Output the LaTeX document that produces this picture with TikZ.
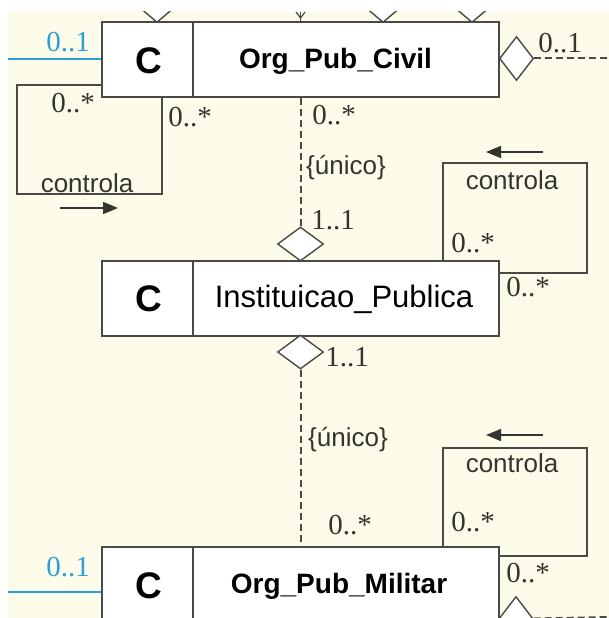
\documentclass[tikz,border=0pt]{standalone}
\usepackage{fontspec}
\setmainfont{Liberation Serif}
\newfontfamily\sansf{Liberation Sans}
\usetikzlibrary{shapes.geometric,arrows.meta}
\definecolor{cream}{HTML}{FDFBEA}
\definecolor{ln}{HTML}{4A4A45}
\definecolor{txt}{HTML}{35352F}
\definecolor{umlblue}{HTML}{2C9FD6}
\begin{document}
\begin{tikzpicture}[x=1pt,y=-1pt,
  classbox/.style={draw=ln, fill=white, line width=1.6pt, minimum width=397pt, minimum height=75pt, inner sep=0pt},
  aggv/.style={diamond, draw=ln, fill=white, line width=1.4pt, inner sep=0pt, minimum width=46pt, minimum height=34pt},
  aggh/.style={diamond, draw=ln, fill=white, line width=1.4pt, inner sep=0pt, minimum width=34pt, minimum height=44pt},
  conn/.style={draw=ln, line width=1.6pt},
  dashconn/.style={draw=ln, line width=2pt, dash pattern=on 7pt off 4pt},
  mult/.style={text=txt, font=\fontsize{29}{29}\selectfont, inner sep=0pt},
  bluemult/.style={text=umlblue, font=\fontsize{29}{29}\selectfont, inner sep=0pt},
  lbl/.style={text=txt, font=\sansf\fontsize{26}{26}\selectfont, inner sep=0pt},
  stereo/.style={text=black, font=\sansf\bfseries\fontsize{37}{37}\selectfont, inner sep=0pt},
  cname/.style={text=black, font=\sansf\bfseries\fontsize{28}{28}\selectfont, inner sep=0pt},
  cnamereg/.style={text=black, font=\sansf\fontsize{31}{31}\selectfont, inner sep=0pt},
  dirarrow/.style={draw=txt, line width=1.5pt, -{Triangle[length=15pt,width=12pt]}}
]
\useasboundingbox (0,0) rectangle (609,618);
\clip (0,0) rectangle (609,618);
\fill[white] (0,0) rectangle (609,618);
\fill[cream] (8,12) rectangle (609,618);

% coordinates
\coordinate (l1) at (17,85);
\coordinate (l2) at (162,194);
\coordinate (r1) at (443,163);
\coordinate (r2) at (587,273);
\coordinate (r3) at (443,448);
\coordinate (r4) at (587,556);
\coordinate (b1) at (8,59);
\coordinate (b2) at (8,592);
\coordinate (e1) at (609,58.5);
\coordinate (e2) at (609,617);

% classes
\node[classbox] (civ) at (300.5,59.5) {};
\node[classbox] (inst) at (300.5,298.5) {};
\node[classbox] (mil) at (300.5,584.5) {};
\draw[conn] (193,22) -- (193,97);
\draw[conn] (193,261) -- (193,336);
\draw[conn] (193,547) -- (193,622);
\node[stereo] (civC) at (149,61) {C};
\node[cname] (civN) at (335.5,61) {Org\_Pub\_Civil};
\node[stereo] (instC) at (149,299) {C};
\node[cnamereg] (instN) at (344,299) {Instituicao\_Publica};
\node[stereo] (milC) at (149,586) {C};
\node[cname] (milN) at (339,586) {Org\_Pub\_Militar};

% self loops
\draw[conn] (civ.west |- l1) -- (l1) |- (l2) -- (l2 |- civ.south);
\draw[conn] (r1 |- inst.north) -- (r1) -| (r2) -- (inst.east |- r2);
\draw[conn] (r3 |- mil.north) -- (r3) -| (r4) -- (mil.east |- r4);

% blue associations
\draw[draw=umlblue, line width=1.6pt] (b1) -- (civ.west |- b1);
\draw[draw=umlblue, line width=1.6pt] (b2) -- (mil.west |- b2);

% aggregations
\node[aggv] (d1) at (300.5,244) {};
\node[aggv] (d2) at (300.5,352) {};
\node[aggh] (d3) at (516.5,58.5) {};
\node[aggh] (d4) at (516,618.5) {};
\draw[dashconn] (civ.south) -- (d1.north);
\draw[dashconn] (d2.south) -- (mil.north);
\draw[dashconn] (d3.east) -- (e1);
\draw[dashconn] (d4.east) -- (e2);

% partial diamonds on top of Org_Pub_Civil
\begin{scope}
\clip (8,12) rectangle (609,22);
\node[aggv, minimum width=40pt] (t1) at (157,5.5) {};
\node[aggv, minimum width=40pt] (t3) at (383,5.5) {};
\node[aggv, minimum width=40pt] (t4) at (472,5.5) {};
\end{scope}
\draw[conn, line width=1.2pt] (296,12) -- (300.5,18) -- (305,12);
\draw[conn, line width=1.2pt] (300.5,12) -- (300.5,22);

% direction arrows
\coordinate (a1s) at (60,208); \coordinate (a1e) at (118,208);
\coordinate (a2s) at (543,152); \coordinate (a2e) at (486,152);
\coordinate (a3s) at (543,435); \coordinate (a3e) at (486,435);
\draw[dirarrow] (a1s) -- (a1e);
\draw[dirarrow] (a2s) -- (a2e);
\draw[dirarrow] (a3s) -- (a3e);

% labels
\node[bluemult] (m1) at (68,42) {0..1};
\node[bluemult] (m2) at (68,567) {0..1};
\node[mult] (m3) at (560,43) {0..1};
\node[mult] (m4) at (73,103) {0..*};
\node[mult] (m5) at (190,117) {0..*};
\node[mult] (m6) at (334,115) {0..*};
\node[lbl] (u1) at (346,168) {\{único\}};
\node[mult] (m7) at (333,220) {1..1};
\node[lbl] (c1) at (87,183) {controla};
\node[lbl] (c2) at (512,180) {controla};
\node[mult] (m8) at (473,243) {0..*};
\node[mult] (m9) at (528,287) {0..*};
\node[mult] (m10) at (347,357) {1..1};
\node[lbl] (u2) at (348,440) {\{único\}};
\node[mult] (m11) at (350,525) {0..*};
\node[lbl] (c3) at (512,463) {controla};
\node[mult] (m12) at (473,522) {0..*};
\node[mult] (m13) at (528,573) {0..*};
\end{tikzpicture}
\end{document}
